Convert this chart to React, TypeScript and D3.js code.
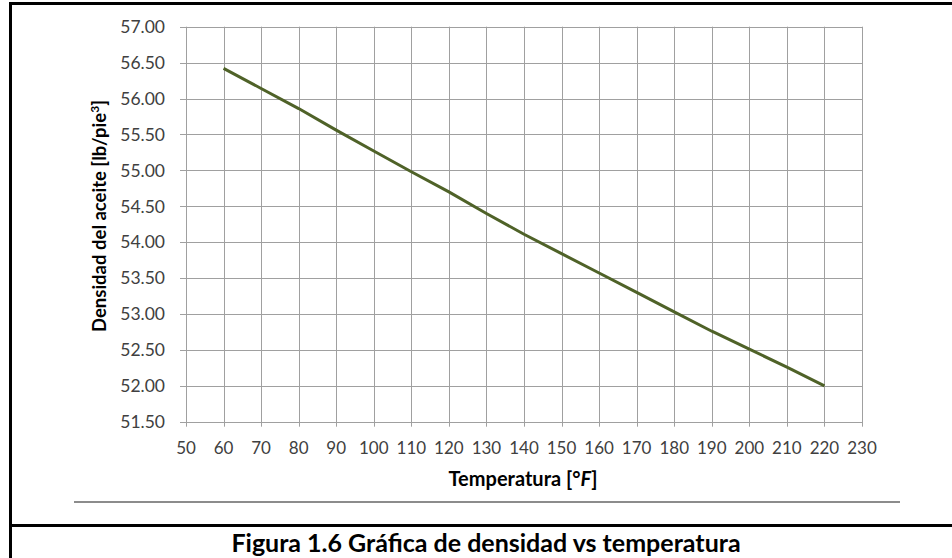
import { useEffect, useRef } from "react";
import * as d3 from "d3";

// temperatura [°F] y densidad del aceite [lb/pie3]
const temperatures = [60, 70, 80, 90, 100, 110, 120, 130, 140, 150, 160, 170, 180, 190, 200, 210, 220];
const densities = [56.42, 56.14, 55.86, 55.56, 55.27, 54.98, 54.70, 54.40, 54.11, 53.84, 53.57, 53.30, 53.03, 52.76, 52.51, 52.26, 52.0];
const xTicks = d3.range(50, 231, 10);
const yTicks = d3.range(51.5, 57.01, 0.5);

const caption = "Figura 1.6 Gráfica de densidad vs temperatura";
const font = "Lato, 'Open Sans', sans-serif";

export default function App() {
  const ref = useRef<SVGSVGElement | null>(null);

  useEffect(() => {
    if (!ref.current) return;
    const svg = d3.select(ref.current);
    svg.selectAll("*").remove();

    const x = d3.scaleLinear().domain([50, 230]).range([186, 862]);
    const y = d3.scaleLinear().domain([51.5, 57]).range([421.7, 26.7]);

    // frame of the figure
    const frame = svg.append("g").attr("stroke", "#000").attr("stroke-width", 3);
    frame.append("line").attr("x1", 9).attr("x2", 952).attr("y1", 3.5).attr("y2", 3.5);
    frame.append("line").attr("x1", 10.5).attr("x2", 10.5).attr("y1", 2).attr("y2", 558);
    frame.append("line").attr("x1", 9).attr("x2", 952).attr("y1", 525.5).attr("y2", 525.5);

    // grid
    const grid = svg.append("g").attr("stroke", "#a0a0a0").attr("stroke-width", 1);
    grid
      .selectAll("line.h")
      .data(yTicks)
      .enter()
      .append("line")
      .attr("x1", 180)
      .attr("x2", x(230))
      .attr("y1", (d) => Math.round(y(d)) + 0.5)
      .attr("y2", (d) => Math.round(y(d)) + 0.5);
    grid
      .selectAll("line.v")
      .data(xTicks)
      .enter()
      .append("line")
      .attr("x1", (d) => Math.round(x(d)) + 0.5)
      .attr("x2", (d) => Math.round(x(d)) + 0.5)
      .attr("y1", y(57))
      .attr("y2", y(51.5) + 5);

    // tick labels
    svg
      .append("g")
      .selectAll("text")
      .data(yTicks)
      .enter()
      .append("text")
      .attr("x", 165)
      .attr("y", (d) => y(d))
      .attr("dy", "0.36em")
      .attr("text-anchor", "end")
      .attr("font-family", font)
      .attr("font-size", 17.5)
      .attr("fill", "#404040")
      .text((d) => d.toFixed(2));

    svg
      .append("g")
      .selectAll("text")
      .data(xTicks)
      .enter()
      .append("text")
      .attr("x", (d) => x(d))
      .attr("y", 454)
      .attr("text-anchor", "middle")
      .attr("font-family", font)
      .attr("font-size", 17)
      .attr("fill", "#404040")
      .text((d) => String(d));

    // data line
    const line = d3
      .line<number>()
      .x((d, i) => x(temperatures[i]))
      .y((d) => y(d));
    svg
      .append("path")
      .datum(densities)
      .attr("d", line)
      .attr("fill", "none")
      .attr("stroke", "#4f6228")
      .attr("stroke-width", 3);

    // axis titles
    const xt = svg
      .append("text")
      .attr("x", 523)
      .attr("y", 486)
      .attr("text-anchor", "middle")
      .attr("font-family", font)
      .attr("font-size", 20)
      .attr("font-weight", "bold")
      .attr("fill", "#000");
    xt.append("tspan").text("Temperatura [°");
    xt.append("tspan").attr("font-style", "italic").text("F");
    xt.append("tspan").text("]");

    const yt = svg
      .append("text")
      .attr("transform", "translate(106,216) rotate(-90)")
      .attr("text-anchor", "middle")
      .attr("font-family", font)
      .attr("font-size", 18.5)
      .attr("font-weight", "bold")
      .attr("fill", "#000");
    yt.append("tspan").text("Densidad del aceite [lb/pie");
    yt.append("tspan").attr("font-size", 12).attr("dy", -7).text("3");
    yt.append("tspan").attr("dy", 7).text("]");

    // separator above the caption
    svg
      .append("line")
      .attr("x1", 74)
      .attr("x2", 900)
      .attr("y1", 502)
      .attr("y2", 502)
      .attr("stroke", "#8c8c8c")
      .attr("stroke-width", 2);

    svg
      .append("text")
      .attr("x", 486)
      .attr("y", 552)
      .attr("text-anchor", "middle")
      .attr("font-family", font)
      .attr("font-size", 25)
      .attr("font-weight", "bold")
      .attr("fill", "#000")
      .text(caption);
  }, []);

  return (
    <svg
      ref={ref}
      width={952}
      height={558}
      style={{ position: "absolute", left: 0, top: 0, background: "#fff" }}
    />
  );
}
